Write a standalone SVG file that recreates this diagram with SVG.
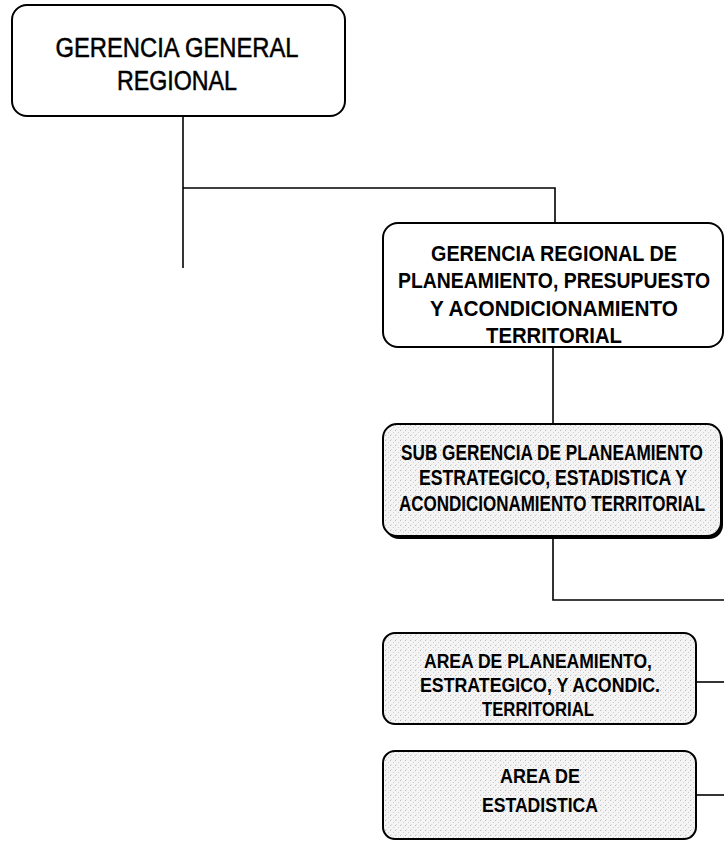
<svg xmlns="http://www.w3.org/2000/svg" width="724" height="842" viewBox="0 0 724 842">
<defs>
<pattern id="stip" width="5" height="5" patternUnits="userSpaceOnUse">
<rect width="5" height="5" fill="#f4f4f4"/>
<rect x="0" y="0" width="1" height="1" fill="#bdbdbd"/>
<rect x="3" y="2" width="1" height="1" fill="#d0d0d0"/>
<rect x="1" y="4" width="1" height="1" fill="#dcdcdc"/>
</pattern>
</defs>
<style>
.box{fill:#fff;stroke:#000;stroke-width:2}
.sh{fill:url(#stip);stroke:#000;stroke-width:2}
.t{font-family:"Liberation Sans",Arial,sans-serif;fill:#000;text-anchor:middle}
.r{stroke:#000;stroke-width:0.5}
.b{font-weight:bold}
.c{fill:none;stroke:#000;stroke-width:1.6}
</style>
<g id="connectors">
<path class="c" d="M183 116 V268"/>
<path class="c" d="M183 188 H555 V223"/>
<path class="c" d="M553 347 V424"/>
<path class="c" d="M553 537 V600 H724"/>
<path class="c" d="M696 682 H724"/>
<path class="c" d="M696 795 H724"/>
</g>
<g id="n1">
<rect class="box" x="12" y="5" width="333" height="111" rx="15"/>
<text class="t r" font-size="27" x="177" y="57" textLength="243" lengthAdjust="spacingAndGlyphs">GERENCIA GENERAL</text>
<text class="t r" font-size="27" x="177" y="90" textLength="120" lengthAdjust="spacingAndGlyphs">REGIONAL</text>
</g>
<g id="n2">
<rect class="box" x="383" y="223" width="340" height="124" rx="15"/>
<text class="t b" font-size="20" transform="translate(554 261) scale(1 1.1)" textLength="246" lengthAdjust="spacingAndGlyphs">GERENCIA REGIONAL DE</text>
<text class="t b" font-size="20" transform="translate(554 288) scale(1 1.1)" textLength="312" lengthAdjust="spacingAndGlyphs">PLANEAMIENTO, PRESUPUESTO</text>
<text class="t b" font-size="20" transform="translate(554 316) scale(1 1.1)" textLength="248" lengthAdjust="spacingAndGlyphs">Y ACONDICIONAMIENTO</text>
<text class="t b" font-size="20" transform="translate(554 343) scale(1 1.1)" textLength="136" lengthAdjust="spacingAndGlyphs">TERRITORIAL</text>
</g>
<g id="n3">
<rect x="385" y="427" width="338" height="112" rx="14" fill="#000"/>
<rect class="sh" x="383" y="424" width="338" height="112" rx="14"/>
<text class="t b" font-size="18" transform="translate(552 460) scale(1 1.18)" textLength="302" lengthAdjust="spacingAndGlyphs">SUB GERENCIA DE PLANEAMIENTO</text>
<text class="t b" font-size="18" transform="translate(553 485) scale(1 1.18)" textLength="268" lengthAdjust="spacingAndGlyphs">ESTRATEGICO, ESTADISTICA Y</text>
<text class="t b" font-size="18" transform="translate(552 511) scale(1 1.18)" textLength="306" lengthAdjust="spacingAndGlyphs">ACONDICIONAMIENTO TERRITORIAL</text>
</g>
<g id="n4">
<rect class="sh" x="383" y="633" width="313" height="91" rx="12"/>
<text class="t b" font-size="21" x="538" y="668" textLength="228" lengthAdjust="spacingAndGlyphs">AREA DE PLANEAMIENTO,</text>
<text class="t b" font-size="21" x="540" y="692" textLength="240" lengthAdjust="spacingAndGlyphs">ESTRATEGICO, Y ACONDIC.</text>
<text class="t b" font-size="21" x="538" y="716" textLength="112" lengthAdjust="spacingAndGlyphs">TERRITORIAL</text>
</g>
<g id="n5">
<rect class="sh" x="383" y="751" width="313" height="88" rx="12"/>
<text class="t b" font-size="21" x="540" y="783" textLength="80" lengthAdjust="spacingAndGlyphs">AREA DE</text>
<text class="t b" font-size="21" x="540" y="812" textLength="116" lengthAdjust="spacingAndGlyphs">ESTADISTICA</text>
</g>
</svg>
